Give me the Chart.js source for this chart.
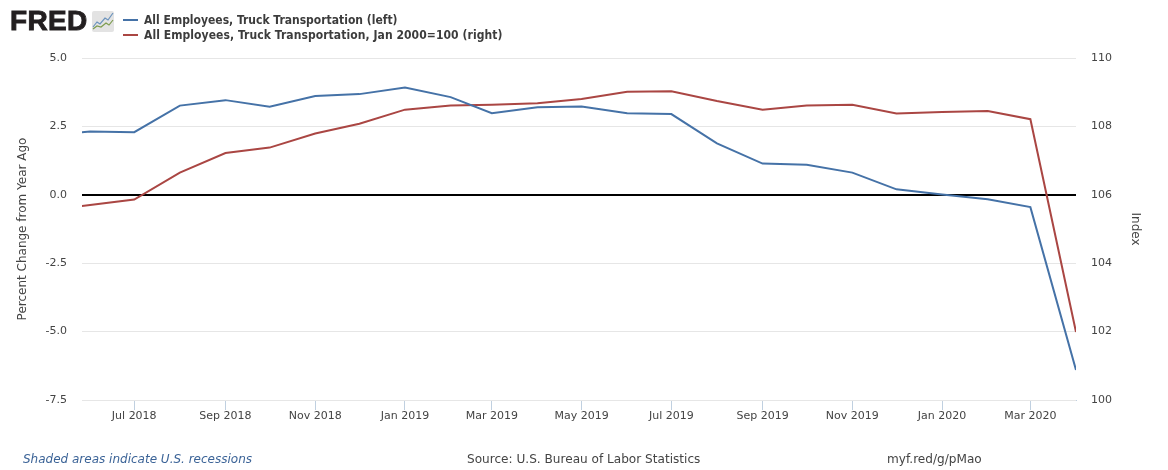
<!DOCTYPE html>
<html>
<head>
<meta charset="utf-8">
<style>
  html, body { margin: 0; padding: 0; background: #fff; }
  #wrap { position: relative; width: 1168px; height: 470px; overflow: hidden; font-family: "DejaVu Sans", sans-serif; }
  #wrap canvas { position: absolute; left: 0; top: 0; }
  .abs { position: absolute; white-space: nowrap; }
  #logo { left: 10px; top: 4px; font: bold 28px/34px "Liberation Sans", sans-serif; color: #231f20; letter-spacing: 0.3px; -webkit-text-stroke: 0.9px #231f20; }
  #icon { left: 86px; top: 11px; }
  .leg { left: 144px; font: bold 12px/14px "DejaVu Sans Condensed", "DejaVu Sans", sans-serif; font-stretch: condensed; color: #3c3c3c; }
  .sw { left: 123px; width: 15px; height: 2px; }
  .foot { top: 451px; font-size: 12.1px; line-height: 16px; color: #444; }
</style>
</head>
<body>
<div id="wrap">
  <canvas id="chart" width="1168" height="470"></canvas>
  <div id="logo" class="abs">FRED</div>
  <svg id="icon" class="abs" width="28" height="21" viewBox="0 0 28 21">
    <rect x="6" y="0" width="22" height="21" rx="2" fill="#e3e3e3"/>
    <polyline points="7,16 11,11 14,13 19,7 22,9 27,2" fill="none" stroke="#6b93bd" stroke-width="1.2"/>
    <polyline points="7,18 11,15 15,16 20,12 23,14 27,9" fill="none" stroke="#7d9c4f" stroke-width="1.2"/>
  </svg>
  <div class="abs sw" id="sw0" style="top:19px"></div>
  <div class="abs leg" id="leg0" style="top:13px"></div>
  <div class="abs sw" id="sw1" style="top:34px"></div>
  <div class="abs leg" id="leg1" style="top:28px;letter-spacing:0.07px"></div>
  <div class="abs foot" style="left:23px;font-size:12px;font-style:italic;color:#3b6397">Shaded areas indicate U.S. recessions</div>
  <div class="abs foot" style="left:467px">Source: U.S. Bureau of Labor Statistics</div>
  <div class="abs foot" style="left:887px">myf.red/g/pMao</div>
</div>

<script src="https://cdn.jsdelivr.net/npm/chart.js@4/dist/chart.umd.min.js"></script>
<script>
// months as [year, month] (month is 1-12), May 2018 sits left of the visible window
var months = [
  [2018, 5], [2018, 6], [2018, 7], [2018, 8], [2018, 9], [2018, 10], [2018, 11], [2018, 12],
  [2019, 1], [2019, 2], [2019, 3], [2019, 4], [2019, 5], [2019, 6], [2019, 7], [2019, 8],
  [2019, 9], [2019, 10], [2019, 11], [2019, 12], [2020, 1], [2020, 2], [2020, 3], [2020, 4]
];
var pctChange = [2.2, 2.31, 2.29, 3.26, 3.46, 3.22, 3.61, 3.68, 3.92, 3.57, 2.98, 3.2, 3.23, 2.98, 2.95, 1.88, 1.14, 1.1, 0.81, 0.2, 0.01, -0.16, -0.45, -6.4];
var indexVals = [105.53, 105.7, 105.86, 106.65, 107.22, 107.38, 107.79, 108.08, 108.49, 108.61, 108.63, 108.68, 108.8, 109.01, 109.03, 108.74, 108.49, 108.61, 108.63, 108.38, 108.42, 108.45, 108.21, 101.99];
var leftTicks = [5, 2.5, 0, -2.5, -5, -7.5];
var rightTicks = [110, 108, 106, 104, 102, 100];
var tickMonths = [[2018, 7], [2018, 9], [2018, 11], [2019, 1], [2019, 3], [2019, 5], [2019, 7], [2019, 9], [2019, 11], [2020, 1], [2020, 3]];
var monthNames = ['Jan', 'Feb', 'Mar', 'Apr', 'May', 'Jun', 'Jul', 'Aug', 'Sep', 'Oct', 'Nov', 'Dec'];
var seriesNames = ['All Employees, Truck Transportation (left)', 'All Employees, Truck Transportation, Jan 2000=100 (right)'];
var seriesColors = ['#4572a7', '#aa4643'];

function toDays(m) {
  return Date.UTC(m[0], m[1] - 1, 1) / 86400000;
}
function dayLabel(v) {
  var d = new Date(v * 86400000);
  return monthNames[d.getUTCMonth()] + ' ' + d.getUTCFullYear();
}
function toPoints(vals) {
  var out = [];
  for (var i = 0; i < months.length; i++) {
    out.push({ x: toDays(months[i]), y: vals[i] });
  }
  return out;
}

for (var i = 0; i < 2; i++) {
  document.getElementById('leg' + i).textContent = seriesNames[i];
  document.getElementById('sw' + i).style.background = seriesColors[i];
}

var tickFont = { family: '"DejaVu Sans", sans-serif', size: 11 };
var textColor = '#444';

new Chart(document.getElementById('chart').getContext('2d'), {
  type: 'line',
  data: {
    datasets: [
      { data: toPoints(pctChange), yAxisID: 'yL', borderColor: seriesColors[0], borderWidth: 2, pointRadius: 0, tension: 0 },
      { data: toPoints(indexVals), yAxisID: 'yR', borderColor: seriesColors[1], borderWidth: 2, pointRadius: 0, tension: 0 }
    ]
  },
  options: {
    responsive: false,
    animation: false,
    events: [],
    // fixes the plot box: left 82, right 1076, top 58, bottom 400
    layout: { padding: { top: 58, left: 0, right: 0, bottom: 0 } },
    plugins: { legend: { display: false }, tooltip: { enabled: false } },
    scales: {
      x: {
        type: 'linear',
        min: toDays([2018, 5]) + 25.5,
        max: toDays([2020, 4]),
        afterBuildTicks: function (axis) {
          axis.ticks = tickMonths.map(function (m) { return { value: toDays(m) }; });
        },
        afterFit: function (axis) { axis.height = 70; },
        border: { color: '#c0d0e0', width: 1 },
        grid: { drawOnChartArea: false, drawTicks: true, tickLength: 10, color: '#c0d0e0' },
        ticks: {
          font: tickFont, color: textColor, maxRotation: 0, autoSkip: false, padding: 0,
          callback: function (v) { return dayLabel(v); }
        }
      },
      yL: {
        position: 'left',
        min: -7.5,
        max: 5,
        afterBuildTicks: function (axis) {
          axis.ticks = leftTicks.map(function (v) { return { value: v }; });
        },
        afterFit: function (axis) { axis.width = 82; },
        border: { display: false },
        grid: {
          drawTicks: false,
          color: function (c) { return c.tick && c.tick.value === 0 ? '#000' : '#e6e6e6'; },
          lineWidth: function (c) { return c.tick && c.tick.value === 0 ? 2 : 1; },
          z: 0
        },
        ticks: {
          font: tickFont, color: textColor, padding: 15,
          callback: function (v) { return v.toFixed(1); }
        },
        title: { display: true, text: 'Percent Change from Year Ago', font: { family: tickFont.family, size: 12 }, color: textColor, padding: { top: 16, bottom: 0 } }
      },
      yR: {
        position: 'right',
        min: 100,
        max: 110,
        afterBuildTicks: function (axis) {
          axis.ticks = rightTicks.map(function (v) { return { value: v }; });
        },
        afterFit: function (axis) { axis.width = 92; },
        border: { display: false },
        grid: { display: false },
        ticks: { font: tickFont, color: textColor, padding: 7 },
        title: { display: true, text: 'Index', font: { family: tickFont.family, size: 12 }, color: textColor, padding: { top: 26, bottom: 0 } }
      }
    }
  }
});
</script>
</body>
</html>
